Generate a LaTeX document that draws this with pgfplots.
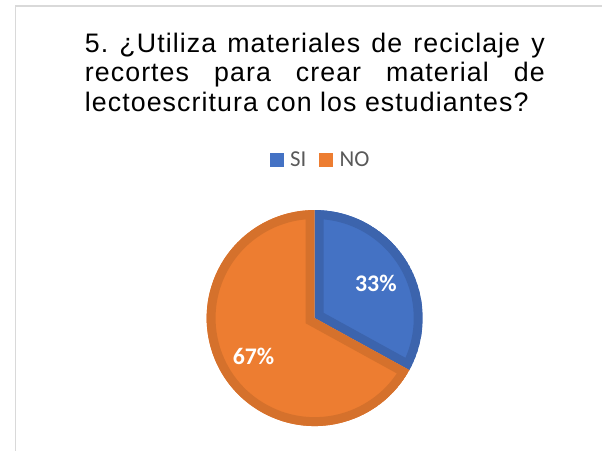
\documentclass[border=0pt]{standalone}
\usepackage{pgfplots}
\pgfplotsset{compat=1.18}
\usepackage{pgfplotstable}
\usepackage{fontspec}
\setmainfont{Liberation Sans}
\newfontfamily\titlefont[LetterSpace=4]{Liberation Sans}
\newfontfamily\carlito{Carlito}

\definecolor{siblue}{HTML}{4472C4}
\definecolor{siedge}{HTML}{3C64AD}
\definecolor{noorange}{HTML}{ED7D31}
\definecolor{noedge}{HTML}{D5712C}
\definecolor{legendgray}{HTML}{595959}
\definecolor{framegray}{HTML}{D9D9D9}

% survey answers (percent)
\pgfplotstableread{
label value
SI 33
NO 67
}\piedata

\begin{document}
\frenchspacing
\pgfplotstablegetelem{0}{value}\of\piedata \let\vsi\pgfplotsretval
\pgfplotstablegetelem{1}{value}\of\piedata \let\vno\pgfplotsretval
\pgfmathsetmacro\asplit{90-3.6*\vsi}
\pgfmathsetmacro\aend{\asplit-3.6*\vno}
\begin{tikzpicture}
  \path[use as bounding box] (0,0) rectangle (602pt,455pt);
  \begin{axis}[at={(0,0)}, anchor=south west, scale only axis, width=602pt, height=455pt,
      xmin=0, xmax=602, ymin=0, ymax=455, hide axis, clip=false,
      legend columns=-1,
      legend image code/.code={\fill[#1,draw=none] (0pt,-7pt) rectangle (14pt,7pt);},
      legend style={at={(axis cs:317,293.5)}, anchor=center, draw=none, fill=none, inner sep=0pt,
        font=\carlito\fontsize{23}{26}\selectfont, text=legendgray,
        nodes={inner sep=0pt},
        /tikz/every odd column/.append style={column sep=6.5pt},
        /tikz/every even column/.append style={column sep=13pt}}]
    \addlegendimage{fill=siblue, draw=none}
    \addlegendentry{SI}
    \addlegendimage{fill=noorange, draw=none}
    \addlegendentry{NO}
    % chart frame
    \draw[framegray, line width=1.8pt] (axis cs:10,0) -- (axis cs:10,449) -- (axis cs:602,449);
    % SI slice
    \begin{scope}
      \clip (axis cs:312,134) -- ++(90:109pt) arc[start angle=90, end angle=\asplit, radius=109pt] -- cycle;
      \draw[siedge, fill=siblue, line width=18pt] (axis cs:312,134) -- ++(90:109pt) arc[start angle=90, end angle=\asplit, radius=109pt] -- cycle;
    \end{scope}
    % NO slice
    \begin{scope}
      \clip (axis cs:312,134) -- ++(\asplit:109pt) arc[start angle=\asplit, end angle=\aend, radius=109pt] -- cycle;
      \draw[noedge, fill=noorange, line width=18pt] (axis cs:312,134) -- ++(\asplit:109pt) arc[start angle=\asplit, end angle=\aend, radius=109pt] -- cycle;
    \end{scope}
    \node[text=white, font=\carlito\bfseries\fontsize{24}{28}\selectfont] at (axis cs:373.8,168.5) {\vsi\%};
    \node[text=white, font=\carlito\bfseries\fontsize{24}{28}\selectfont] at (axis cs:250.3,95.5) {\vno\%};
    % title
    \node[anchor=north west, inner sep=0pt, text width=464pt, align=justify,
      font=\titlefont\fontsize{27}{29.5}\selectfont] at (axis cs:80,421.7)
      {5. ¿Utiliza materiales de reciclaje y\linebreak recortes para crear material de\linebreak lectoescritura con los estudiantes?};
  \end{axis}
\end{tikzpicture}
\end{document}
